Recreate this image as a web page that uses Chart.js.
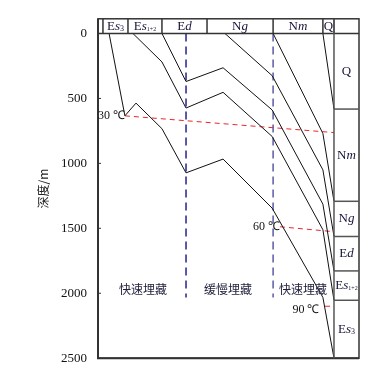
<!DOCTYPE html>
<html>
<head>
<meta charset="utf-8">
<script src="https://cdn.jsdelivr.net/npm/chart.js@4"></script>
<style>
body { margin: 0; background: #fff; }
</style>
</head>
<body>
<canvas id="burialChart" width="387" height="377"></canvas>
<script>
// depth axis (m)
var depthTicks = [0, 500, 1000, 1500, 2000, 2500];

// relative time: 0 = left frame, 100 = present day
var baseEs3Time = [4.7, 11.4, 16.1, 27.1, 37.3, 53.0, 73.8, 95.3, 100];
var baseEs3Depth = [0, 634, 536, 733, 1073, 967, 1345, 2032, 2500];
var topEs3Time = [14.8, 27.1, 37.3, 53.0, 73.8, 95.3, 100];
var topEs3Depth = [0, 219, 574, 453, 793, 1511, 2054];
var topEs12Time = [27.1, 37.3, 53.0, 73.8, 95.3, 100];
var topEs12Depth = [0, 370, 264, 589, 1314, 1828];
var topEdTime = [53.8, 73.8, 95.3, 100];
var topEdDepth = [0, 325, 1050, 1563];
var topNgTime = [74.2, 95.3, 100];
var topNgDepth = [0, 770, 1292];
var topNmTime = [95.3, 100];
var topNmDepth = [0, 582];

// isotherms
var iso30Time = [11.4, 100];
var iso30Depth = [634, 763];
var iso60Time = [77.1, 100];
var iso60Depth = [1488, 1526];
var iso90Time = [96.2, 100];
var iso90Depth = [2100, 2100];

// stage boundaries (blue dashed)
var stageLineTime = [37.3, 74.2];
var stageLineDepth = [0, 2032];
var stageNames = ['快速埋藏', '缓慢埋藏', '快速埋藏'];
var stageTime = [19.1, 55.1, 86.9];
var stageDepth = 1971;

// header row formations
var headerNames = ['Es3', 'Es1+2', 'Ed', 'Ng', 'Nm', 'Q'];
var headerBounds = [2.1, 12.7, 27.1, 46.2, 74.2, 95.3, 100];

// present-day stratigraphic column
var columnNames = ['Q', 'Nm', 'Ng', 'Ed', 'Es1+2', 'Es3'];
var columnBounds = [0, 582, 1292, 1563, 1828, 2054, 2500];

var xMax = 110.6;
var yMin = -113;

function pts(xs, ys) {
    return xs.map(function (x, i) { return {x: x, y: ys[i]}; });
}

var datasets = [];
[[baseEs3Time, baseEs3Depth], [topEs3Time, topEs3Depth], [topEs12Time, topEs12Depth],
 [topEdTime, topEdDepth], [topNgTime, topNgDepth], [topNmTime, topNmDepth]].forEach(function (c) {
    datasets.push({data: pts(c[0], c[1]), borderColor: '#111', borderWidth: 1});
});
[[iso30Time, iso30Depth], [iso60Time, iso60Depth], [iso90Time, iso90Depth]].forEach(function (c) {
    datasets.push({data: pts(c[0], c[1]), borderColor: '#e8262b', borderWidth: 1, borderDash: [5, 4]});
});
stageLineTime.forEach(function (t, i) {
    datasets.push({data: pts([t, t], stageLineDepth), borderColor: i === 0 ? '#23238a' : '#5a5aa6',
        borderWidth: 1.5, borderDash: [8, 5]});
});

// draws "Es1+2" style names: capital upright, lowercase italic, digits as subscript
function drawFormation(ctx, name, cx, cy) {
    var parts = [];
    var subSize = name.length > 3 ? 6 : 8;
    for (var i = 0; i < name.length; i++) {
        var ch = name[i];
        if (i === 0) parts.push({t: ch, f: '13px "Liberation Serif"', dy: 0});
        else if (/[a-z]/.test(ch)) parts.push({t: ch, f: 'italic 13px "Liberation Serif"', dy: 0});
        else parts.push({t: ch, f: subSize + 'px "Liberation Serif"', dy: 3});
    }
    var w = 0;
    parts.forEach(function (p) { ctx.font = p.f; p.w = ctx.measureText(p.t).width; w += p.w; });
    var x = cx - w / 2;
    ctx.textAlign = 'left';
    ctx.textBaseline = 'middle';
    parts.forEach(function (p) { ctx.font = p.f; ctx.fillText(p.t, x, cy + p.dy); x += p.w; });
}

var framePlugin = {
    id: 'frame',
    afterDatasetsDraw: function (chart) {
        var ctx = chart.ctx, xs = chart.scales.x, ys = chart.scales.y, a = chart.chartArea;
        var y0 = ys.getPixelForValue(0);
        var xCol = xs.getPixelForValue(100);
        ctx.save();
        ctx.strokeStyle = '#333';
        // outer frame
        ctx.lineWidth = 1.5;
        ctx.strokeRect(a.left, a.top, a.right - a.left, a.bottom - a.top);
        ctx.lineWidth = 2;
        ctx.beginPath();
        ctx.moveTo(a.left, a.top); ctx.lineTo(a.left, a.bottom); ctx.lineTo(a.right, a.bottom);
        ctx.stroke();
        // inward ticks
        ctx.lineWidth = 1;
        depthTicks.forEach(function (d) {
            var y = ys.getPixelForValue(d);
            ctx.beginPath(); ctx.moveTo(a.left, y); ctx.lineTo(a.left + 3, y); ctx.stroke();
        });
        // header row
        ctx.lineWidth = 1.5;
        ctx.beginPath(); ctx.moveTo(a.left, y0); ctx.lineTo(a.right, y0); ctx.stroke();
        headerBounds.forEach(function (b) {
            var x = xs.getPixelForValue(b);
            ctx.beginPath(); ctx.moveTo(x, a.top); ctx.lineTo(x, y0); ctx.stroke();
        });
        ctx.fillStyle = '#15153a';
        headerNames.forEach(function (n, i) {
            var cx = (xs.getPixelForValue(headerBounds[i]) + xs.getPixelForValue(headerBounds[i + 1])) / 2;
            drawFormation(ctx, n, cx, (a.top + y0) / 2);
        });
        // present-day column
        ctx.strokeStyle = '#555';
        ctx.beginPath(); ctx.moveTo(xCol, a.top); ctx.lineTo(xCol, a.bottom); ctx.stroke();
        columnBounds.slice(1, -1).forEach(function (d) {
            var y = ys.getPixelForValue(d);
            ctx.beginPath(); ctx.moveTo(xCol, y); ctx.lineTo(a.right, y); ctx.stroke();
        });
        columnNames.forEach(function (n, i) {
            var cy = (ys.getPixelForValue(columnBounds[i]) + ys.getPixelForValue(columnBounds[i + 1])) / 2;
            drawFormation(ctx, n, (xCol + a.right) / 2, cy);
        });
        // isotherm labels
        ctx.fillStyle = '#111';
        ctx.font = '12px "Liberation Serif"';
        ctx.textBaseline = 'middle';
        ctx.textAlign = 'right';
        ctx.fillText('30 ℃', xs.getPixelForValue(iso30Time[0]), ys.getPixelForValue(iso30Depth[0]));
        ctx.fillText('60 ℃', xs.getPixelForValue(iso60Time[0]), ys.getPixelForValue(iso60Depth[0]));
        ctx.textAlign = 'center';
        ctx.fillText('90 ℃', xs.getPixelForValue(88.1), ys.getPixelForValue(2130));
        // stage names
        ctx.fillStyle = '#22223f';
        ctx.font = '12px "Noto Sans CJK SC"';
        stageNames.forEach(function (n, i) {
            ctx.fillText(n, xs.getPixelForValue(stageTime[i]), ys.getPixelForValue(stageDepth));
        });
        ctx.restore();
    }
};

new Chart(document.getElementById('burialChart').getContext('2d'), {
    type: 'scatter',
    data: {datasets: datasets},
    options: {
        responsive: false,
        animation: false,
        showLine: true,
        elements: {point: {radius: 0}, line: {tension: 0}},
        layout: {padding: {top: 13, right: 28, bottom: 18, left: 0}},
        plugins: {legend: {display: false}, tooltip: {enabled: false}},
        scales: {
            x: {type: 'linear', min: 0, max: xMax, display: false},
            y: {
                type: 'linear', reverse: true, min: yMin, max: 2500,
                afterBuildTicks: function (s) { s.ticks = depthTicks.map(function (v) { return {value: v}; }); },
                afterFit: function (s) { s.width = 98; },
                grid: {display: false, drawTicks: false},
                border: {display: false},
                ticks: {padding: 11, color: '#111', font: {family: 'Liberation Serif', size: 13},
                    callback: function (v) { return String(v); }},
                title: {display: true, text: '深度/m', color: '#222',
                    font: {family: 'Noto Sans CJK SC', size: 12}, padding: {top: 36, bottom: 0}}
            }
        }
    },
    plugins: [framePlugin]
});
</script>
</body>
</html>
